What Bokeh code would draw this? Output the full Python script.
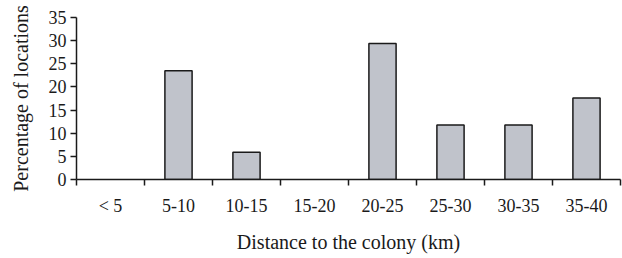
from bokeh.plotting import figure
from bokeh.models import FixedTicker, Range1d, ColumnDataSource
from bokeh.embed import file_html
from bokeh.resources import INLINE

categories = ["< 5", "5-10", "10-15", "15-20", "20-25", "25-30", "30-35", "35-40"]
percentages = [0, 23.5, 5.9, 0, 29.4, 11.8, 11.8, 17.6]
y_ticks = [0, 5, 10, 15, 20, 25, 30, 35]

n = len(categories)
centers = [i + 0.5 for i in range(n)]

FONT = "Liberation Serif"
INK = "#1a1a1a"

p = figure(width=622, height=258, output_backend="svg", toolbar_location=None,
           x_range=Range1d(0, n), y_range=Range1d(0, 35),
           min_border_left=76, min_border_right=2, min_border_top=17, min_border_bottom=79)
p.outline_line_color = None
p.xgrid.visible = False
p.ygrid.visible = False

nz = [i for i, v in enumerate(percentages) if v > 0]
src = ColumnDataSource(dict(x=[centers[i] for i in nz], top=[percentages[i] for i in nz]))
p.vbar(x="x", top="top", width=0.4, bottom=0, source=src,
       fill_color="#c0c3cb", line_color=INK, line_width=1.5)

xa = p.xaxis[0]
xa.ticker = FixedTicker(ticks=centers, minor_ticks=list(range(n + 1)))
xa.major_label_overrides = {c: lab for c, lab in zip(centers, categories)}
xa.major_tick_out = 0
xa.major_tick_in = 0
xa.minor_tick_out = 6
xa.minor_tick_in = 0
xa.minor_tick_line_color = INK
xa.minor_tick_line_width = 1.5
xa.axis_line_color = INK
xa.axis_line_width = 1.5
xa.major_label_standoff = 10
xa.major_label_text_font = FONT
xa.major_label_text_font_size = "18px"
xa.major_label_text_color = INK
xa.axis_label = "Distance to the colony (km)"
xa.axis_label_text_font = FONT
xa.axis_label_text_font_size = "20px"
xa.axis_label_text_font_style = "normal"
xa.axis_label_text_color = INK
xa.axis_label_standoff = 12

ya = p.yaxis[0]
ya.ticker = FixedTicker(ticks=y_ticks)
ya.minor_tick_line_color = None
ya.major_tick_out = 6
ya.major_tick_in = 0
ya.major_tick_line_color = INK
ya.major_tick_line_width = 1.5
ya.axis_line_color = INK
ya.axis_line_width = 1.5
ya.major_label_standoff = 4
ya.major_label_text_font = FONT
ya.major_label_text_font_size = "18px"
ya.major_label_text_color = INK
ya.axis_label = "Percentage of locations"
ya.axis_label_text_font = FONT
ya.axis_label_text_font_size = "20px"
ya.axis_label_text_font_style = "normal"
ya.axis_label_text_color = INK
ya.axis_label_standoff = 14

open("out.html", "w").write(file_html(p, INLINE))
